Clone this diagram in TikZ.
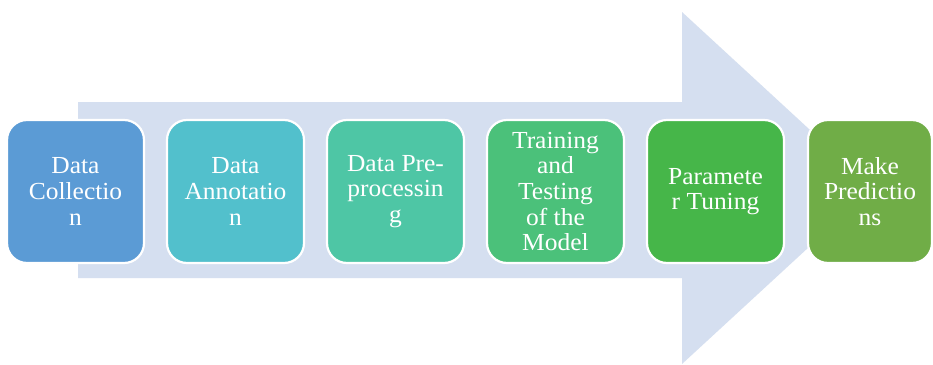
\documentclass[tikz,border=0pt]{standalone}
\usepackage{fontspec}
\setmainfont[FakeStretch=1.04]{Liberation Serif}
\definecolor{arrowc}{HTML}{D5DFF0}
\definecolor{c1}{HTML}{5B9BD5}
\definecolor{c2}{HTML}{52C0CC}
\definecolor{c3}{HTML}{4EC6A5}
\definecolor{c4}{HTML}{4BC17A}
\definecolor{c5}{HTML}{46B649}
\definecolor{c6}{HTML}{70AD47}
\tikzset{
  stage/.style={draw=white, line width=2.2pt, rounded corners=20pt,
    minimum width=137pt, minimum height=143pt, inner sep=0pt,
    align=center, text=white, font=\fontsize{24.5}{25.6}\selectfont},
}
\begin{document}
\begin{tikzpicture}[x=1pt,y=-1pt]
\useasboundingbox (0,0) rectangle (933,364);
\clip (0,0) rectangle (933,364);
\fill[white] (0,0) rectangle (933,364);
\fill[arrowc] (78,102) -- (682,102) -- (682,12) -- (873,188) -- (682,364) -- (682,278) -- (78,278) -- cycle;
\node[stage, fill=c1] (b1) at (75.5,191.5) {Data\\Collectio\\n};
\node[stage, fill=c2] (b2) at (235.5,191.5) {Data\\Annotatio\\n};
\node[stage, fill=c3] (b3) at (395.5,191.5) {Data Pre-\\processin\\g};
\node[stage, fill=c4] (b4) at (555.5,191.5) {Training\\and\\Testing\\of the\\Model};
\node[stage, fill=c5] (b5) at (715.5,191.5) {Paramete\\r Tuning};
\node[stage, fill=c6, minimum width=124pt] (b6) at (870,191.5) {Make\\Predictio\\ns};
\end{tikzpicture}
\end{document}
